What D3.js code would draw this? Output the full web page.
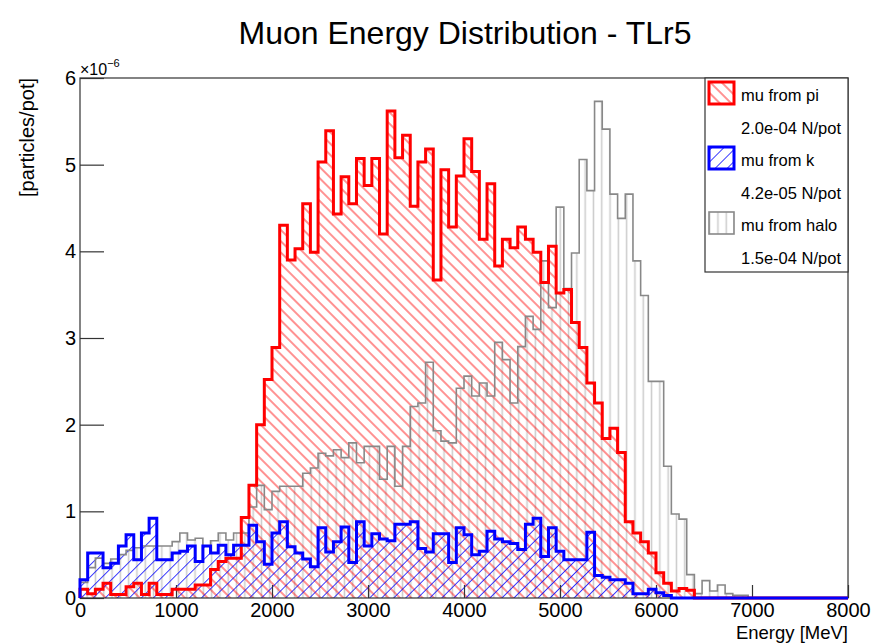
<!DOCTYPE html>
<html>
<head>
<meta charset="utf-8">
<script src="https://d3js.org/d3.v7.min.js"></script>
<style>
  body { margin: 0; background: #fff; }
  text { font-family: "Liberation Sans", Arial, Helvetica, sans-serif; }
</style>
</head>
<body>
<div id="chart"></div>
<script>
// 100 bins of 80 MeV, values in units of 1e-6 particles/pot
var binLow = 0, binWidth = 80;

var muPi = [0.10, 0.05, 0.10, 0.17, 0.04, 0.04, 0.13, 0.17, 0.04, 0.17,
            0.04, 0.04, 0.10, 0.10, 0.10, 0.15, 0.15, 0.33, 0.42, 0.46,
            0.46, 0.93, 1.30, 2.00, 2.52, 2.89, 4.30, 3.90, 4.03, 4.55,
            3.99, 5.03, 5.39, 4.43, 4.86, 4.55, 5.07, 4.76, 5.07, 4.20,
            5.62, 5.08, 5.34, 4.52, 5.03, 5.18, 3.67, 4.94, 4.28, 4.87,
            5.30, 4.92, 4.14, 4.78, 3.83, 4.14, 4.04, 4.28, 4.14, 3.99,
            3.64, 4.06, 3.52, 3.56, 3.18, 2.89, 2.48, 2.25, 1.84, 1.96,
            1.68, 0.88, 0.75, 0.65, 0.52, 0.29, 0.17, 0.08, 0.11, 0.09,
            0, 0, 0, 0, 0, 0, 0, 0, 0, 0,
            0, 0, 0, 0, 0, 0, 0, 0, 0, 0];

var muK = [0.21, 0.52, 0.52, 0.35, 0.40, 0.60, 0.73, 0.44, 0.75, 0.92,
           0.44, 0.44, 0.52, 0.54, 0.60, 0.42, 0.60, 0.52, 0.61, 0.50,
           0.61, 0.61, 0.84, 0.65, 0.39, 0.75, 0.88, 0.59, 0.52, 0.45,
           0.36, 0.81, 0.53, 0.65, 0.82, 0.41, 0.88, 0.60, 0.74, 0.68,
           0.66, 0.85, 0.85, 0.88, 0.57, 0.53, 0.74, 0.74, 0.41, 0.81,
           0.73, 0.50, 0.54, 0.77, 0.68, 0.65, 0.63, 0.56, 0.85, 0.92,
           0.48, 0.81, 0.54, 0.44, 0.44, 0.44, 0.76, 0.26, 0.24, 0.21,
           0.21, 0.17, 0.05, 0.05, 0.10, 0.06, 0.03, 0, 0, 0,
           0, 0, 0, 0, 0, 0, 0, 0, 0, 0,
           0, 0, 0, 0, 0, 0, 0, 0, 0, 0];

var muHalo = [0.18, 0.35, 0.46, 0.40, 0.45, 0.50, 0.55, 0.58, 0.60, 0.60,
              0.60, 0.60, 0.65, 0.75, 0.67, 0.69, 0.60, 0.66, 0.75, 0.67,
              0.75, 0.75, 1.05, 1.30, 1.02, 1.23, 1.29, 1.29, 1.29, 1.44,
              1.50, 1.67, 1.64, 1.71, 1.62, 1.79, 1.56, 1.75, 1.75, 1.37,
              1.75, 1.29, 1.75, 2.21, 2.25, 2.72, 1.93, 1.81, 1.79, 2.42,
              2.56, 2.33, 2.48, 2.33, 2.95, 2.75, 2.25, 2.90, 3.25, 3.10,
              3.89, 3.35, 4.51, 3.57, 3.98, 5.06, 4.70, 5.73, 5.41, 4.66,
              4.38, 4.66, 3.89, 3.49, 2.50, 2.50, 1.52, 0.97, 0.91, 0.27,
              0.05, 0.20, 0.08, 0.15, 0.05, 0.03, 0.03, 0, 0, 0,
              0, 0, 0, 0, 0, 0, 0, 0, 0, 0];

var xTicks = [0, 1000, 2000, 3000, 4000, 5000, 6000, 7000, 8000];
var yTicks = [0, 1, 2, 3, 4, 5, 6];
var legendNames = ["mu from pi", "mu from k", "mu from halo"];
var legendRates = ["2.0e-04 N/pot", "4.2e-05 N/pot", "1.5e-04 N/pot"];

var width = 873, height = 643;
var x = d3.scaleLinear().domain([0, 8000]).range([80, 848]);
var y = d3.scaleLinear().domain([0, 6]).range([598, 78]);

var svg = d3.select("#chart").append("svg")
    .attr("width", width)
    .attr("height", height);

var defs = svg.append("defs");

function hatch(id, color, angle, gap, sw, op) {
    var p = defs.append("pattern")
        .attr("id", id)
        .attr("patternUnits", "userSpaceOnUse")
        .attr("width", gap)
        .attr("height", gap)
        .attr("patternTransform", "rotate(" + angle + ")");
    p.append("line")
        .attr("x1", gap / 2).attr("y1", -1)
        .attr("x2", gap / 2).attr("y2", gap + 1)
        .attr("stroke", color)
        .attr("stroke-width", sw)
        .attr("stroke-opacity", op);
}
hatch("hPi", "#ff0000", -45, 8, 1, 0.85);
hatch("hK", "#0000ff", 45, 8.5, 1, 0.8);
hatch("hHalo", "#cccccc", 0, 8.3, 1.5, 1);

var series = [
    { vals: muHalo, fill: "url(#hHalo)", stroke: "#888888", sw: 1.6 },
    { vals: muPi, fill: "url(#hPi)", stroke: "#ff0000", sw: 3 },
    { vals: muK, fill: "url(#hK)", stroke: "#0000ff", sw: 3 }
];

function histPath(vals) {
    var pts = [[binLow, 0]];
    vals.forEach(function (v, i) { pts.push([binLow + i * binWidth, v]); });
    var end = binLow + vals.length * binWidth;
    pts.push([end, vals[vals.length - 1]]);
    pts.push([end, 0]);
    return d3.line()
        .x(function (d) { return x(d[0]); })
        .y(function (d) { return y(d[1]); })
        .curve(d3.curveStepAfter)(pts);
}

// title
svg.append("text")
    .attr("x", 465)
    .attr("y", 44)
    .attr("text-anchor", "middle")
    .attr("font-size", 32)
    .text("Muon Energy Distribution - TLr5");

// hatched fills
series.forEach(function (s) {
    svg.append("path")
        .attr("d", histPath(s.vals))
        .attr("fill", s.fill)
        .attr("stroke", "none");
});

// axes: major + minor ticks pointing inward
var axisColor = "#333";
var gx = svg.append("g").attr("transform", "translate(0,598)");
gx.call(d3.axisBottom(x).tickValues(d3.range(0, 8001, 200)).tickSize(-6.5).tickFormat(""));
gx.call(d3.axisBottom(x).tickValues(xTicks).tickSize(-13).tickPadding(5).tickFormat(d3.format("d")));

var gy = svg.append("g").attr("transform", "translate(80,0)");
gy.call(d3.axisLeft(y).tickValues(d3.range(0, 6.01, 0.2)).tickSize(-12).tickFormat(""));
gy.call(d3.axisLeft(y).tickValues(yTicks).tickSize(-24).tickPadding(4).tickFormat(d3.format("d")));

[gx, gy].forEach(function (g) {
    g.selectAll("path.domain").remove();
    g.selectAll("line").attr("stroke", axisColor).attr("stroke-width", 1.2);
    g.selectAll("text").attr("font-size", 20).attr("fill", "#000")
        .attr("font-family", "Liberation Sans, Arial, sans-serif");
});

// frame
svg.append("rect")
    .attr("x", x(0)).attr("y", y(6))
    .attr("width", x(8000) - x(0)).attr("height", y(0) - y(6))
    .attr("fill", "none")
    .attr("stroke", axisColor)
    .attr("stroke-width", 1.2);

// outlines
series.forEach(function (s) {
    svg.append("path")
        .attr("d", histPath(s.vals))
        .attr("fill", "none")
        .attr("stroke", s.stroke)
        .attr("stroke-width", s.sw)
        .attr("stroke-linejoin", "miter");
});

// exponent label
var ex = svg.append("text").attr("x", 80).attr("y", 75).attr("font-size", 16);
ex.append("tspan").text("\u00d710");
ex.append("tspan").attr("dy", -8).attr("font-size", 11).text("\u22126");

// axis titles
svg.append("text")
    .attr("transform", "translate(34,78) rotate(-90)")
    .attr("text-anchor", "end")
    .attr("font-size", 20)
    .text("[particles/pot]");

svg.append("text")
    .attr("x", 848)
    .attr("y", 638.5)
    .attr("text-anchor", "end")
    .attr("font-size", 18.5)
    .text("Energy [MeV]");

// legend
var lg = svg.append("g");
lg.append("rect")
    .attr("x", 705).attr("y", 78)
    .attr("width", 143).attr("height", 194)
    .attr("fill", "#fff")
    .attr("stroke", axisColor)
    .attr("stroke-width", 1.2);

var legendSeries = [series[1], series[2], series[0]];
legendSeries.forEach(function (s, i) {
    var base = 101 + i * 65;
    lg.append("rect")
        .attr("x", 709).attr("y", base - 19)
        .attr("width", 25).attr("height", 22)
        .attr("fill", s.fill)
        .attr("stroke", s.stroke)
        .attr("stroke-width", s.sw);
    lg.append("text")
        .attr("x", 741).attr("y", base)
        .attr("font-size", 16.5)
        .text(legendNames[i]);
    lg.append("text")
        .attr("x", 741).attr("y", base + 32.5)
        .attr("font-size", 16.5)
        .text(legendRates[i]);
});
</script>
</body>
</html>
